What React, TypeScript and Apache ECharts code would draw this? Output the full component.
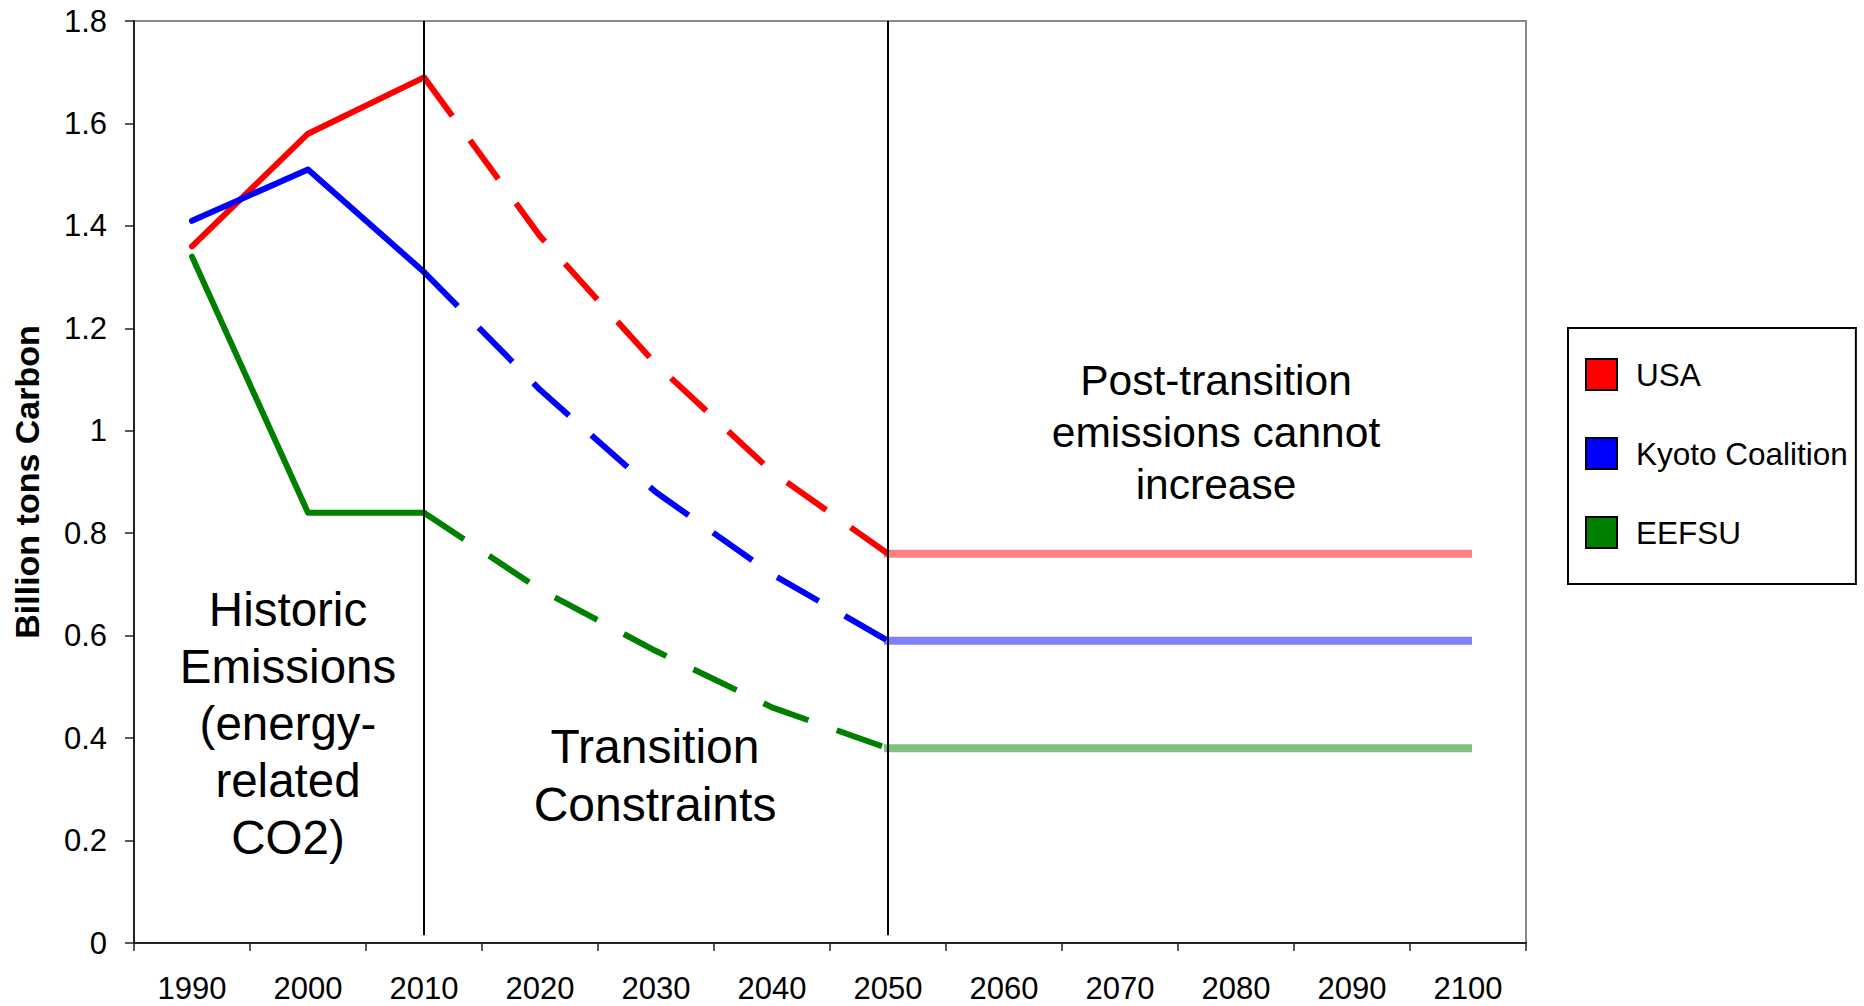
import React, { useEffect, useRef } from "react";
import * as echarts from "echarts";

// Decades on the horizontal axis
const years = ["1990", "2000", "2010", "2020", "2030", "2040", "2050", "2060", "2070", "2080", "2090", "2100"];

// Billion tons of carbon per year
const usaHistoric = [1.36, 1.58, 1.69];
const usaTransition = [1.69, 1.38, 1.13, 0.92, 0.76];
const usaPost = [0.76, 0.76, 0.76, 0.76, 0.76, 0.76];

const kyotoHistoric = [1.41, 1.51, 1.31];
const kyotoTransition = [1.31, 1.08, 0.88, 0.72, 0.59];
const kyotoPost = [0.59, 0.59, 0.59, 0.59, 0.59, 0.59];

const eefsuHistoric = [1.34, 0.84, 0.84];
const eefsuTransition = [0.84, 0.69, 0.57, 0.46, 0.38];
const eefsuPost = [0.38, 0.38, 0.38, 0.38, 0.38, 0.38];

// Period boundaries (vertical rules)
const boundaries = ["2010", "2050"];

const FONT = '"Liberation Sans", Arial, Helvetica, sans-serif';

// Place a run of values on the category axis starting at a given year
function placeAt(startYear: string, values: number[]) {
  const start = years.indexOf(startYear);
  return years.map((_, i) => (i >= start && i < start + values.length ? values[i - start] : "-"));
}

type Group = {
  name: string;
  color: string;
  light: string;
  historic: number[];
  transition: number[];
  post: number[];
};

const groups: Group[] = [
  { name: "USA", color: "#ff0000", light: "#ff8080", historic: usaHistoric, transition: usaTransition, post: usaPost },
  { name: "Kyoto Coalition", color: "#0000ff", light: "#8080ff", historic: kyotoHistoric, transition: kyotoTransition, post: kyotoPost },
  { name: "EEFSU", color: "#008000", light: "#80c080", historic: eefsuHistoric, transition: eefsuTransition, post: eefsuPost },
];

export default function App() {
  const ref = useRef<HTMLDivElement>(null);

  useEffect(() => {
    if (!ref.current) return;
    const chart = echarts.init(ref.current, null, { renderer: "svg" });

    const base = {
      type: "line",
      symbol: "none",
      showSymbol: false,
      silent: true,
      emphasis: { disabled: true },
      connectNulls: false,
    };

    const series: any[] = [];
    groups.forEach((g) => {
      series.push({
        ...base,
        name: g.name,
        data: placeAt("1990", g.historic),
        itemStyle: { color: g.color },
        lineStyle: { color: g.color, width: 6, cap: "round", join: "round" },
        z: 3,
      });
      series.push({
        ...base,
        name: g.name + " transition",
        data: placeAt("2010", g.transition),
        itemStyle: { color: g.color },
        lineStyle: { color: g.color, width: 6, type: [48, 30], cap: "butt", join: "round" },
        z: 3,
      });
      series.push({
        ...base,
        name: g.name + " post-transition",
        data: placeAt("2050", g.post),
        itemStyle: { color: g.light },
        lineStyle: { color: g.light, width: 8, cap: "square" },
        z: 2,
      });
    });

    // Vertical rules separating the three periods
    series.push({
      type: "line",
      name: "periods",
      data: [],
      silent: true,
      z: 5,
      markLine: {
        silent: true,
        symbol: "none",
        animation: false,
        label: { show: false },
        lineStyle: { color: "#000", width: 2, type: "solid" },
        emphasis: { disabled: true },
        data: boundaries.map((y) => [{ coord: [y, 0.015] }, { coord: [y, 1.8] }]),
      },
    });

    chart.setOption({
      animation: false,
      backgroundColor: "#ffffff",
      textStyle: { fontFamily: FONT },
      grid: {
        left: 134,
        top: 21,
        right: 338,
        bottom: 63,
        show: true,
        borderColor: "#888888",
        borderWidth: 2,
        backgroundColor: "transparent",
      },
      xAxis: {
        type: "category",
        data: years,
        boundaryGap: true,
        axisLine: { show: true, lineStyle: { color: "#222", width: 2 } },
        axisTick: { show: true, length: 8, lineStyle: { color: "#222", width: 1.5 }, interval: 0 },
        axisLabel: { interval: 0, margin: 30, fontSize: 31, color: "#000", fontFamily: FONT },
        splitLine: { show: false },
      },
      yAxis: {
        type: "value",
        min: 0,
        max: 1.8,
        interval: 0.2,
        name: "Billion tons Carbon",
        nameLocation: "middle",
        nameRotate: 90,
        nameGap: 90,
        nameTextStyle: { fontSize: 34, fontWeight: "bold", color: "#000", fontFamily: FONT },
        axisLine: { show: true, lineStyle: { color: "#222", width: 2 } },
        axisTick: { show: true, length: 9, lineStyle: { color: "#222", width: 1.5 } },
        axisLabel: { margin: 27, fontSize: 31, color: "#000", fontFamily: FONT },
        splitLine: { show: false },
      },
      legend: {
        show: true,
        orient: "vertical",
        left: 1568,
        top: 328,
        padding: [30, 8, 35, 17],
        itemWidth: 31,
        itemHeight: 31,
        itemGap: 46,
        icon: "rect",
        selectedMode: false,
        borderColor: "#000",
        borderWidth: 2,
        backgroundColor: "#fff",
        textStyle: { fontSize: 31.5, color: "#000", fontFamily: FONT, padding: [0, 0, 0, 14] },
        data: groups.map((g) => ({
          name: g.name,
          icon: "rect",
          itemStyle: { color: g.color, borderColor: "#000", borderWidth: 2 },
        })),
      },
      graphic: [
        {
          type: "text",
          x: 288,
          y: 723,
          silent: true,
          style: {
            text: "Historic\nEmissions\n(energy-\nrelated\nCO2)",
            font: `47.5px ${FONT}`,
            fill: "#000",
            align: "center",
            verticalAlign: "middle",
            lineHeight: 57,
          },
        },
        {
          type: "text",
          x: 655,
          y: 775,
          silent: true,
          style: {
            text: "Transition\nConstraints",
            font: `48px ${FONT}`,
            fill: "#000",
            align: "center",
            verticalAlign: "middle",
            lineHeight: 58,
          },
        },
        {
          type: "text",
          x: 1216,
          y: 432,
          silent: true,
          style: {
            text: "Post-transition\nemissions cannot\nincrease",
            font: `42.5px ${FONT}`,
            fill: "#000",
            align: "center",
            verticalAlign: "middle",
            lineHeight: 52,
          },
        },
      ],
      series,
    });

    return () => chart.dispose();
  }, []);

  return (
    <div
      ref={ref}
      style={{ position: "fixed", left: 0, top: 0, width: 1864, height: 1006, background: "#fff" }}
    />
  );
}
